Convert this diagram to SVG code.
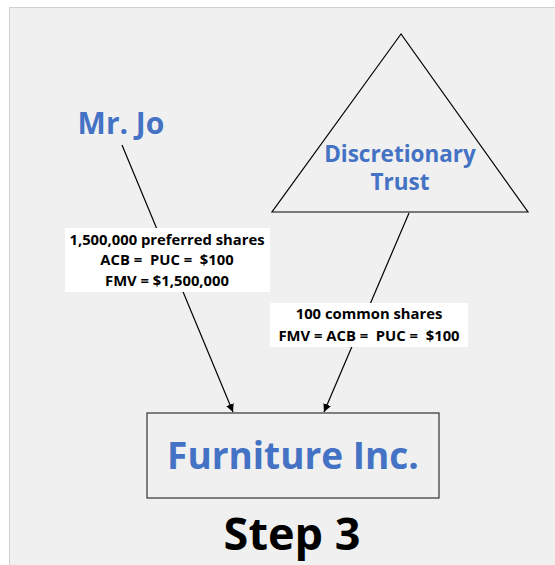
<svg xmlns="http://www.w3.org/2000/svg" width="555" height="565" viewBox="0 0 555 565">
<style>
.blue{fill:#4472c4;font-family:"Open Sans","Noto Sans",sans-serif;font-weight:bold;text-anchor:middle}
.lbl{fill:#000;font-family:"Open Sans","Noto Sans",sans-serif;font-weight:bold;font-size:14.8px;text-anchor:middle;white-space:pre}
.ln{stroke:#000;stroke-width:1.2;fill:none}
</style>
<defs>
<marker id="ah" viewBox="0 0 10 10" refX="10" refY="5" markerWidth="8" markerHeight="8" orient="auto" markerUnits="userSpaceOnUse">
<path d="M0,0 L10,5 L0,10 z" fill="#000"/>
</marker>
</defs>
<rect x="0" y="0" width="555" height="565" fill="#fff"/>
<rect x="9.5" y="7.5" width="546" height="558" fill="#f0f0f0" stroke="#d0d0d0" stroke-width="1"/>
<g id="connectors">
<line class="ln" x1="122" y1="145" x2="233" y2="412" marker-end="url(#ah)"/>
<line class="ln" x1="409" y1="213" x2="324" y2="412" marker-end="url(#ah)"/>
</g>
<g id="label1">
<rect x="65" y="228" width="205" height="64" fill="#fff"/>
<text class="lbl" x="167" y="245" xml:space="preserve">1,500,000 preferred shares</text>
<text class="lbl" x="167" y="265" xml:space="preserve">ACB =  PUC =  $100</text>
<text class="lbl" x="167" y="286" xml:space="preserve">FMV = $1,500,000</text>
</g>
<g id="label2">
<rect x="270" y="303" width="198" height="44" fill="#fff"/>
<text class="lbl" x="369" y="319" xml:space="preserve">100 common shares</text>
<text class="lbl" x="369" y="341" xml:space="preserve">FMV = ACB =  PUC =  $100</text>
</g>
<g id="mrjo">
<text class="blue" x="121" y="134" font-size="30">Mr. Jo</text>
</g>
<g id="trust">
<polygon points="401,34 272,212 528,212" fill="none" stroke="#000" stroke-width="1.2"/>
<text class="blue" x="400" y="162" font-size="22.5">Discretionary</text>
<text class="blue" x="400" y="190" font-size="22.5">Trust</text>
</g>
<g id="furniture">
<rect x="147" y="413" width="292" height="85" fill="none" stroke="#333" stroke-width="1.2"/>
<text class="blue" x="293" y="469" font-size="37">Furniture Inc.</text>
</g>
<g id="step">
<text x="292" y="550" font-family="'Open Sans','Noto Sans',sans-serif" font-weight="bold" font-size="45" text-anchor="middle" fill="#000">Step 3</text>
</g>
</svg>
